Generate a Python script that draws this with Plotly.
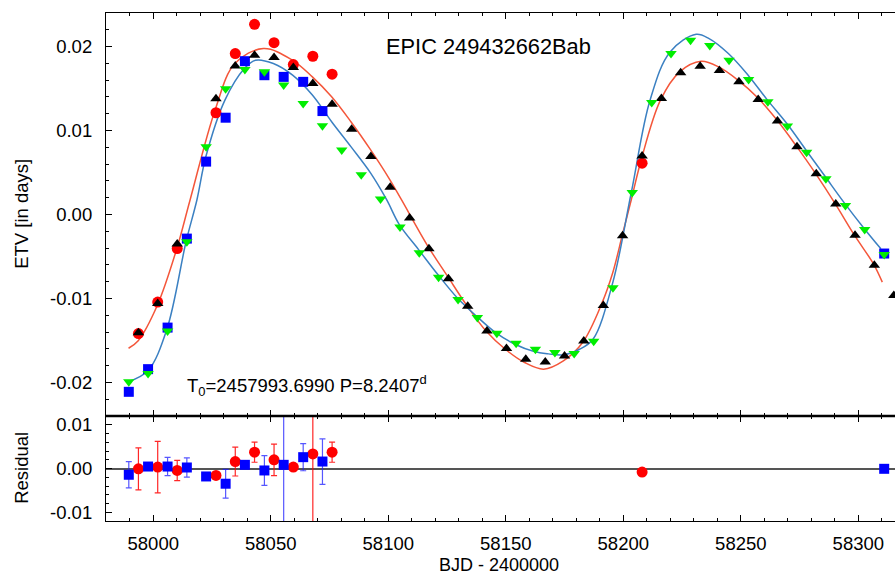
import plotly.graph_objects as go

# ---------------- data ----------------
# model (calculated) primary ETVs - black up-triangles
model_pri_t = [57993.7, 58001.9, 58010.2, 58026.7, 58034.9, 58043.1, 58051.4, 58059.6, 58067.9, 58076.1,
               58084.4, 58092.6, 58100.8, 58109.1, 58117.3, 58125.6, 58133.8, 58142.0, 58150.3, 58158.5,
               58166.8, 58175.0, 58183.2, 58191.5, 58199.7, 58208.0, 58216.2, 58224.4, 58232.7, 58240.9,
               58249.2, 58257.4, 58265.6, 58273.9, 58282.1, 58290.4, 58298.6, 58306.8, 58315.1]
model_pri_etv = [-0.01407, -0.01059, -0.00350, 0.01378, 0.01770, 0.01897, 0.01869, 0.01751, 0.01561, 0.01312,
                 0.01015, 0.00690, 0.00326, -0.00042, -0.00409, -0.00766, -0.01094, -0.01388, -0.01596, -0.01723,
                 -0.01756, -0.01684, -0.01506, -0.01083, -0.00252, 0.00698, 0.01383, 0.01687, 0.01766, 0.01715,
                 0.01580, 0.01371, 0.01113, 0.00808, 0.00484, 0.00125, -0.00248, -0.00604, -0.00964]

# model secondary ETVs - green down-triangles
model_sec_t = [57989.6, 57997.8, 58006.1, 58014.3, 58022.5, 58030.8, 58039.0, 58047.3, 58055.5, 58063.8,
               58072.0, 58080.2, 58088.5, 58096.7, 58105.0, 58113.2, 58121.4, 58129.7, 58137.9, 58146.2,
               58154.4, 58162.6, 58170.9, 58179.1, 58187.4, 58195.6, 58203.8, 58212.1, 58220.3, 58228.6,
               58236.8, 58245.0, 58253.3, 58261.5, 58269.8, 58278.0, 58286.2, 58294.5, 58302.7, 58311.0]
model_sec_etv = [-0.01993, -0.01893, -0.01388, -0.00326, 0.00808, 0.01497, 0.01727, 0.01699, 0.01541, 0.01323,
                 0.01058, 0.00769, 0.00472, 0.00184, -0.00148, -0.00457, -0.00747, -0.01011, -0.01228, -0.01415,
                 -0.01534, -0.01605, -0.01644, -0.01656, -0.01510, -0.00872, 0.00262, 0.01335, 0.01917, 0.02075,
                 0.02012, 0.01837, 0.01608, 0.01342, 0.01054, 0.00742, 0.00425, 0.00108, -0.00180, -0.00477]

# observed primary ETVs - red circles
obs_pri_t = [57993.7, 58001.9, 58010.2, 58026.7, 58034.9, 58043.1, 58051.4, 58059.6, 58067.9, 58076.1, 58208.0]
obs_pri_etv = [-0.01418, -0.01043, -0.00406, 0.01212, 0.01917, 0.02265, 0.02047, 0.01786, 0.01885, 0.01671, 0.00611]
res_pri = [-0.00007, 0.00032, -0.00045, -0.00159, 0.00159, 0.00373, 0.00198, 0.00032, 0.00334, 0.00373, -0.00082]
res_pri_err = [0.0048, 0.0059, 0.0023, 0.0004, 0.0033, 0.0023, 0.0036, 0.0004, 0.05, 0.0023, 0.0006]

# observed secondary ETVs - blue squares
obs_sec_t = [57989.6, 57997.8, 58006.1, 58014.3, 58022.5, 58030.8, 58039.0, 58047.3, 58055.5, 58063.8, 58072.0, 58311.0]
obs_sec_etv = [-0.02112, -0.01842, -0.01347, -0.00287, 0.00630, 0.01153, 0.01826, 0.01659, 0.01639, 0.01580, 0.01232, -0.00465]
res_sec = [-0.00143, 0.00045, 0.00045, 0.00023, -0.00182, -0.00348, 0.00084, -0.00045, 0.00084, 0.00259, 0.00159, -0.00007]
res_sec_err = [0.0030, 0.0004, 0.0021, 0.0022, 0.0006, 0.0033, 0.0004, 0.0034, 0.05, 0.0031, 0.0052, 0.0004]

# fitted curves (sampled along the drawn lines)
curve_pri_t = [57989.5, 57993.5, 58001.7, 58009.9, 58015.7, 58026.3, 58034.7, 58046.9, 58059.3, 58067.7,
               58075.9, 58084.1, 58092.5, 58100.7, 58105.6, 58116.9, 58125.2, 58133.4, 58141.6, 58149.8,
               58158.0, 58166.1, 58174.5, 58182.7, 58191.0, 58195.5, 58199.8, 58203.4, 58207.6, 58215.8,
               58224.0, 58233.1, 58240.6, 58248.8, 58257.2, 58265.4, 58273.5, 58281.7, 58290.0, 58298.2,
               58306.6, 58310.2]
curve_pri_etv = [-0.01593, -0.01506, -0.01083, -0.00418, 0.00176, 0.01243, 0.01798, 0.01976, 0.01837, 0.01639,
                 0.01402, 0.01105, 0.00769, 0.00413, 0.00176, -0.00379, -0.00735, -0.01083, -0.01388, -0.01605,
                 -0.01763, -0.01842, -0.01744, -0.01525, -0.01050, -0.00694, -0.00220, 0.00176, 0.00650, 0.01362,
                 0.01699, 0.01825, 0.01758, 0.01600, 0.01390, 0.01125, 0.00820, 0.00493, 0.00136, -0.00240,
                 -0.00596, -0.00806]

curve_sec_t = [57989.3, 57997.7, 58005.8, 58014.0, 58018.6, 58022.4, 58030.5, 58038.8, 58043.5, 58051.1,
               58059.3, 58067.7, 58075.9, 58084.1, 58092.5, 58099.3, 58104.7, 58112.9, 58121.1, 58129.3,
               58137.5, 58145.7, 58153.9, 58162.1, 58168.2, 58174.3, 58181.4, 58187.1, 58195.5, 58203.4,
               58211.4, 58219.9, 58231.0, 58236.5, 58244.7, 58253.1, 58261.1, 58269.5, 58277.7, 58285.9,
               58294.1, 58302.3, 58309.6]
curve_sec_etv = [-0.01993, -0.01862, -0.01367, -0.00319, 0.00176, 0.00690, 0.01363, 0.01739, 0.01837, 0.01798,
                 0.01659, 0.01422, 0.01105, 0.00808, 0.00493, 0.00176, -0.00121, -0.00418, -0.00715, -0.00991,
                 -0.01209, -0.01407, -0.01545, -0.01632, -0.01660, -0.01672, -0.01605, -0.01486, -0.00813, 0.00262,
                 0.01363, 0.01936, 0.02146, 0.02095, 0.01917, 0.01659, 0.01371, 0.01086, 0.00769, 0.00452,
                 0.00136, -0.00160, -0.00409]

# tick labels
x_tick_vals = [58000, 58050, 58100, 58150, 58200, 58250, 58300]
x_tick_text = ["58000", "58050", "58100", "58150", "58200", "58250", "58300"]
etv_tick_vals = [-0.02, -0.01, 0.0, 0.01, 0.02]
etv_tick_text = ["-0.02", "-0.01", "0.00", "0.01", "0.02"]
res_tick_vals = [-0.01, 0.0, 0.01]
res_tick_text = ["-0.01", "0.00", "0.01"]

title_text = "EPIC 249432662Bab"
param_text = "T<sub>0</sub>=2457993.6990 P=8.2407<sup>d</sup>"

# ---------------- figure ----------------
FONT = "Liberation Sans, Arial, Helvetica, sans-serif"
RED_LINE = "#F4563A"
BLUE_LINE = "#3B80C2"

fig = go.Figure()

# top panel curves
fig.add_trace(go.Scatter(x=curve_pri_t, y=curve_pri_etv, mode="lines", xaxis="x2", yaxis="y2",
                         line=dict(color=RED_LINE, width=1.5, shape="spline", smoothing=1.0), hoverinfo="skip"))
fig.add_trace(go.Scatter(x=curve_sec_t, y=curve_sec_etv, mode="lines", xaxis="x2", yaxis="y2",
                         line=dict(color=BLUE_LINE, width=1.5, shape="spline", smoothing=1.0), hoverinfo="skip"))
# top panel points
fig.add_trace(go.Scatter(x=obs_pri_t, y=obs_pri_etv, mode="markers", xaxis="x2", yaxis="y2",
                         marker=dict(symbol="circle", size=11, color="#FF0000", line=dict(width=0))))
fig.add_trace(go.Scatter(x=obs_sec_t, y=obs_sec_etv, mode="markers", xaxis="x2", yaxis="y2",
                         marker=dict(symbol="square", size=10, color="#0000FF", line=dict(width=0))))
fig.add_trace(go.Scatter(x=model_pri_t, y=model_pri_etv, mode="markers", xaxis="x2", yaxis="y2",
                         marker=dict(symbol="triangle-up", size=10, color="#000000", line=dict(width=0))))
fig.add_trace(go.Scatter(x=model_sec_t, y=model_sec_etv, mode="markers", xaxis="x2", yaxis="y2",
                         marker=dict(symbol="triangle-down", size=10, color="#00EE00", line=dict(width=0))))

# residual panel
fig.add_trace(go.Scatter(x=obs_pri_t, y=res_pri, mode="markers", xaxis="x", yaxis="y",
                         error_y=dict(type="data", array=res_pri_err, visible=True, color="rgba(255,0,0,0.85)",
                                      thickness=1.2, width=3),
                         marker=dict(symbol="circle", size=11, color="#FF0000", line=dict(width=0))))
fig.add_trace(go.Scatter(x=obs_sec_t, y=res_sec, mode="markers", xaxis="x", yaxis="y",
                         error_y=dict(type="data", array=res_sec_err, visible=True, color="rgba(30,30,255,0.75)",
                                      thickness=1.2, width=3),
                         marker=dict(symbol="square", size=10, color="#0000FF", line=dict(width=0))))

split = 105 / 508
xr = [57979.9, 58315.6]

axis_common = dict(showline=True, linecolor="black", linewidth=1.2, showgrid=False,
                   ticks="inside", tickcolor="black", tickwidth=1.1, ticklen=6)

fig.update_layout(
    width=895, height=575,
    margin=dict(l=106, r=0, t=13, b=54),
    paper_bgcolor="white", plot_bgcolor="white",
    showlegend=False,
    font=dict(family=FONT, color="black", size=18.5),
    xaxis=dict(domain=[0, 1], anchor="y", range=xr, tickvals=x_tick_vals, ticktext=x_tick_text,
               mirror="ticks", zeroline=False, ticklabelstandoff=6,
               minor=dict(dtick=10, tick0=58000, ticks="inside", ticklen=3, tickcolor="black", tickwidth=1),
               tickfont=dict(size=18.5, family=FONT), **axis_common),
    yaxis=dict(domain=[0, split], anchor="x", range=[-0.012, 0.012], tickvals=res_tick_vals, ticktext=res_tick_text,
               mirror=False, zeroline=True, zerolinecolor="#555555", zerolinewidth=1.5, ticklabelstandoff=9,
               minor=dict(dtick=0.002, tick0=0, ticks="inside", ticklen=3, tickcolor="black", tickwidth=1),
               tickfont=dict(size=18.5, family=FONT), **axis_common),
    xaxis2=dict(domain=[0, 1], anchor="y2", range=xr, tickvals=x_tick_vals, showticklabels=False,
                mirror="ticks", zeroline=False, matches="x",
                minor=dict(dtick=10, tick0=58000, ticks="inside", ticklen=3, tickcolor="black", tickwidth=1),
                **axis_common),
    yaxis2=dict(domain=[split, 1], anchor="x2", range=[-0.024, 0.024], tickvals=etv_tick_vals, ticktext=etv_tick_text,
                mirror=False, zeroline=False, ticklabelstandoff=9,
                minor=dict(dtick=0.002, tick0=0, ticks="inside", ticklen=3, tickcolor="black", tickwidth=1),
                tickfont=dict(size=18.5, family=FONT), **axis_common),
    shapes=[dict(type="line", xref="paper", yref="paper", x0=0, x1=1, y0=split, y1=split,
                 line=dict(color="black", width=2.6))],
    annotations=[
        dict(text=title_text, xref="x2", yref="y2", x=58098.0, y=0.0200, xanchor="left", yanchor="middle",
             showarrow=False, font=dict(size=21.8, family=FONT)),
        dict(text=param_text, xref="x2", yref="y2", x=58013.4, y=-0.0204, xanchor="left", yanchor="middle",
             showarrow=False, font=dict(size=18.5, family=FONT)),
        dict(text="ETV [in days]", xref="paper", yref="paper", x=-0.108, y=0.6043, xanchor="center",
             yanchor="middle", textangle=-90, showarrow=False, font=dict(size=18.5, family=FONT)),
        dict(text="Residual", xref="paper", yref="paper", x=-0.108, y=0.1043, xanchor="center",
             yanchor="middle", textangle=-90, showarrow=False, font=dict(size=18.5, family=FONT)),
        dict(text="BJD - 2400000", xref="paper", yref="paper", x=0.498, y=-0.087, xanchor="center",
             yanchor="middle", showarrow=False, font=dict(size=18, family=FONT)),
    ],
)

fig.write_html("out.html", config={"displayModeBar": False},
               post_script="document.body.style.margin='0px';document.body.style.overflow='hidden';")
